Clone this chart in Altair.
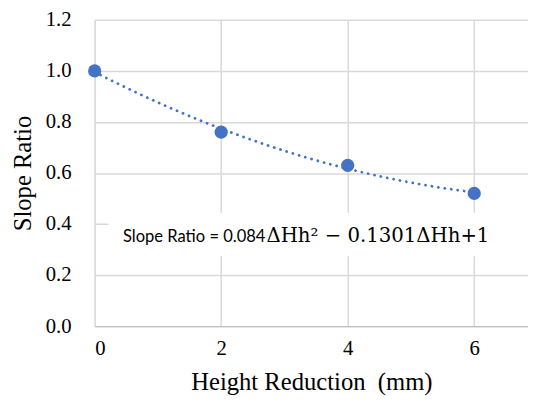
import altair as alt
import pandas as pd

height_reduction = [0, 2, 4, 6]
slope_ratio = [1.0, 0.76, 0.63, 0.52]

# annotation: equation split into a sans part and a math (serif) part
ann_left_text = ["Slope Ratio = 0.084"]
ann_right_text = ["ΔHh² − 0.1301ΔHh+1"]
ann_x = [2.7]
ann_y = [0.328]
# white box behind the annotation
box_x = [0.22]
box_x2 = [6.85]
box_y = [0.274]
box_y2 = [0.444]

df = pd.DataFrame({"x": height_reduction, "y": slope_ratio})
ann = pd.DataFrame({"x": ann_x, "y": ann_y, "a": ann_left_text, "b": ann_right_text})
box = pd.DataFrame({"x": box_x, "x2": box_x2, "y": box_y, "y2": box_y2})

blue = "#4472C4"
serif = "Liberation Serif"

xs = alt.Scale(domain=[0, 6.85], nice=False, zero=False)
ys = alt.Scale(domain=[0, 1.2], nice=False)

x_axis = alt.Axis(values=[0, 2, 4, 6], title="Height Reduction\u00a0 (mm)", format="d",
                  labelFont=serif, labelFontSize=21, labelColor="#000000", labelPadding=12,
                  titleFont=serif, titleFontSize=25, titleFontWeight="normal", titleColor="#000000",
                  titlePadding=11, domain=True, domainColor="#BFBFBF", domainWidth=1.5,
                  ticks=False, grid=True, gridColor="#D9D9D9", gridWidth=1.5)
y_axis = alt.Axis(values=[0, 0.2, 0.4, 0.6, 0.8, 1.0, 1.2], title="Slope Ratio", format=".1f",
                  labelFont=serif, labelFontSize=21, labelColor="#000000", labelPadding=24,
                  titleFont=serif, titleFontSize=25, titleFontWeight="normal", titleColor="#000000",
                  titlePadding=10, domain=False, ticks=False, grid=True,
                  gridColor="#D9D9D9", gridWidth=1.5)

base = alt.Chart(df)

trend = base.transform_regression("x", "y", method="poly", order=2, extent=[0, 6]).mark_line(
    color=blue, strokeWidth=2.8, strokeDash=[0.1, 6.5], strokeCap="round"
).encode(x=alt.X("x:Q", scale=xs, axis=x_axis), y=alt.Y("y:Q", scale=ys, axis=y_axis))

points = base.mark_circle(color=blue, size=180, opacity=1).encode(
    x=alt.X("x:Q", scale=xs), y=alt.Y("y:Q", scale=ys)
)

bg = alt.Chart(box).mark_rect(fill="white", stroke=None).encode(
    x=alt.X("x:Q", scale=xs), x2="x2:Q", y=alt.Y("y:Q", scale=ys), y2="y2:Q"
)

label_a = alt.Chart(ann).mark_text(font="Lato", fontSize=16.8, color="#000000", align="right",
                                   baseline="alphabetic").encode(
    x=alt.X("x:Q", scale=xs), y=alt.Y("y:Q", scale=ys), text="a:N"
)
label_b = alt.Chart(ann).mark_text(font="DejaVu Serif", fontSize=20, color="#000000", align="left",
                                   baseline="alphabetic", dx=1).encode(
    x=alt.X("x:Q", scale=xs), y=alt.Y("y:Q", scale=ys), text="b:N"
)

chart = alt.layer(trend, bg, points, label_a, label_b).properties(
    width=440, height=311, autosize=alt.AutoSizeParams(type="none"),
    padding={"left": 88, "top": 9, "right": 0, "bottom": 75}
).configure_view(stroke=None).configure(background="white")

chart.save("out.html", embed_options={"renderer": "svg", "actions": False})
